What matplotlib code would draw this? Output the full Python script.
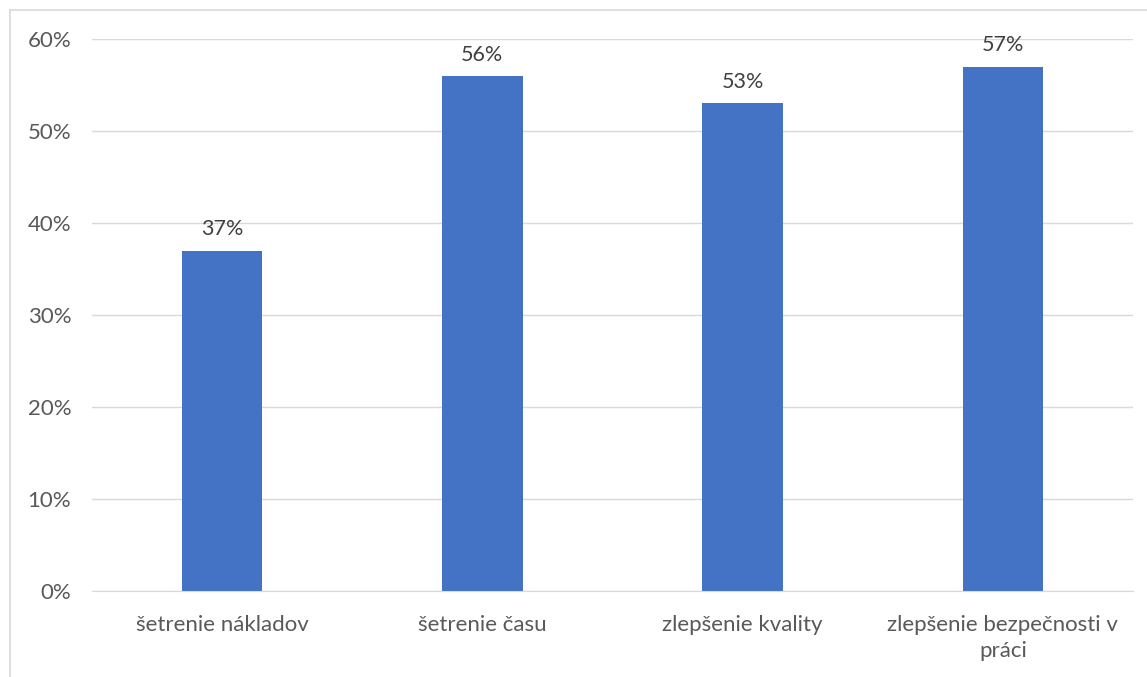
import matplotlib.pyplot as plt
from matplotlib.lines import Line2D
from matplotlib.ticker import FuncFormatter

kategorie = ["šetrenie nákladov", "šetrenie času", "zlepšenie kvality",
             "zlepšenie bezpečnosti v\npráci"]
hodnoty = [37, 56, 53, 57]
osa_y = [0, 10, 20, 30, 40, 50, 60]

plt.rcParams['font.family'] = ['Lato', 'DejaVu Sans']
sedy = '#595959'

fig = plt.figure(figsize=(11.47, 6.77), dpi=100)
ax = fig.add_axes([92/1147, 1 - 591/677, (1133 - 92)/1147, (591 - 39)/677])

x = range(len(kategorie))
stlpce = ax.bar(x, hodnoty, width=0.31, color='#4472C4', zorder=3)

for s, h in zip(stlpce, hodnoty):
    ax.annotate("{}%".format(h), (s.get_x() + s.get_width()/2, h),
                textcoords="offset points", xytext=(0, 8),
                ha='center', va='bottom', fontsize=15.5, color='#404040')

ax.set_xlim(-0.5, len(kategorie) - 0.5)
ax.set_ylim(0, 60)
ax.set_yticks(osa_y)
ax.yaxis.set_major_formatter(FuncFormatter(lambda v, p: "{:.0f}%".format(v)))
ax.set_xticks(list(x))
ax.set_xticklabels(kategorie, linespacing=1.4)

ax.grid(axis='y', color='#d9d9d9', linewidth=1, zorder=0)
for strana in ['top', 'right', 'left']:
    ax.spines[strana].set_visible(False)
ax.spines['bottom'].set_color('#d9d9d9')
ax.spines['bottom'].set_zorder(4)
ax.tick_params(axis='both', length=0, labelsize=16, colors=sedy)
ax.tick_params(axis='y', pad=15)
ax.tick_params(axis='x', pad=17)

# okraj grafu (orezany vpravo a dole)
fig.add_artist(Line2D([10/1147, 10/1147], [0, 1 - 10/677], color='#d9d9d9', lw=1.2,
                      transform=fig.transFigure))
fig.add_artist(Line2D([10/1147, 1], [1 - 10/677, 1 - 10/677], color='#d9d9d9', lw=1.2,
                      transform=fig.transFigure))

fig.savefig('out.png', dpi=100)
